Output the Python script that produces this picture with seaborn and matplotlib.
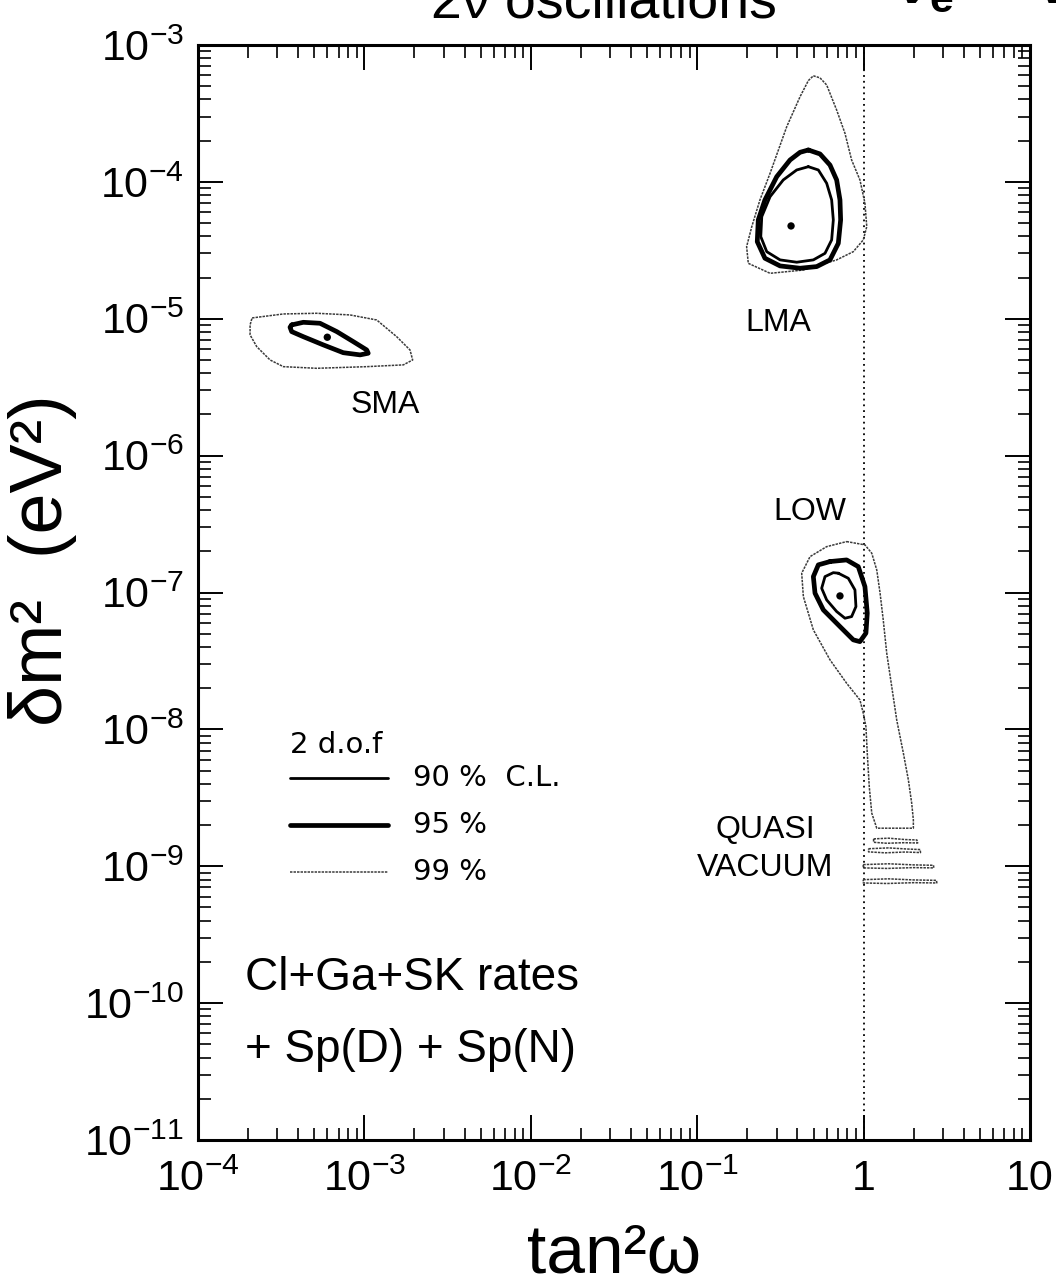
import numpy as np
import pandas as pd
import matplotlib
matplotlib.use("Agg")
import matplotlib.pyplot as plt
from matplotlib.ticker import LogLocator, NullFormatter
import seaborn as sns

# ---------------------------------------------------------------------------
# Allowed regions, vertices given as log10(tan^2 w) and log10(dm^2 / eV^2)
# ---------------------------------------------------------------------------
# SMA solution
sma_95_lx = [-3.437, -3.367, -3.267, -3.166, -3.067, -2.986, -2.977, -3.026, -3.127, -3.247, -3.367, -3.437, -3.447]
sma_95_ly = [-5.045, -5.026, -5.033, -5.094, -5.167, -5.228, -5.252, -5.264, -5.248, -5.191, -5.131, -5.094, -5.062]
sma_99_lx = [-3.675, -3.487, -3.287, -3.087, -2.926, -2.806, -2.726, -2.710, -2.766, -2.986, -3.287, -3.487, -3.567, -3.647, -3.687, -3.687]
sma_99_ly = [-4.994, -4.965, -4.960, -4.972, -5.009, -5.131, -5.228, -5.301, -5.337, -5.350, -5.362, -5.350, -5.301, -5.204, -5.118, -5.045]

# LMA solution
lma_90_lx = [-0.332, -0.272, -0.222, -0.192, -0.182, -0.192, -0.232, -0.302, -0.402, -0.502, -0.582, -0.618, -0.612, -0.562, -0.483, -0.402]
lma_90_ly = [-3.889, -3.913, -4.010, -4.132, -4.278, -4.424, -4.522, -4.570, -4.587, -4.570, -4.510, -4.400, -4.254, -4.108, -3.986, -3.913]
lma_95_lx = [-0.332, -0.262, -0.202, -0.162, -0.142, -0.138, -0.152, -0.202, -0.282, -0.382, -0.502, -0.593, -0.639, -0.633, -0.593, -0.522, -0.442, -0.382]
lma_95_ly = [-3.767, -3.796, -3.877, -3.986, -4.132, -4.278, -4.449, -4.570, -4.619, -4.631, -4.614, -4.558, -4.437, -4.278, -4.132, -3.962, -3.840, -3.784]
lma_99_lx = [-0.302, -0.262, -0.222, -0.162, -0.112, -0.072, -0.022, 0.008, 0.019, -0.002, -0.062, -0.162, -0.362,
             -0.562, -0.693, -0.703, -0.672, -0.623, -0.562, -0.462, -0.382, -0.332]
lma_99_ly = [-3.225, -3.240, -3.292, -3.475, -3.645, -3.840, -3.986, -4.156, -4.327, -4.424, -4.510, -4.570, -4.644,
             -4.668, -4.595, -4.473, -4.327, -4.132, -3.937, -3.597, -3.378, -3.260]

# LOW solution and its quasi-vacuum tail
low_90_lx = [-0.152, -0.092, -0.052, -0.046, -0.072, -0.112, -0.162, -0.222, -0.252, -0.232, -0.182]
low_90_ly = [-6.859, -6.896, -6.981, -7.103, -7.176, -7.188, -7.139, -7.054, -6.969, -6.884, -6.855]
low_95_lx = [-0.202, -0.102, -0.032, 0.008, 0.022, 0.014, -0.022, -0.062, -0.142, -0.242, -0.292, -0.302, -0.272]
low_95_ly = [-6.774, -6.762, -6.811, -6.957, -7.151, -7.297, -7.359, -7.346, -7.249, -7.127, -7.005, -6.884, -6.798]
low_99_lx = [-0.102, 0.008, 0.049, 0.079, 0.099, 0.118, 0.139, 0.169, 0.199, 0.239, 0.269, 0.289, 0.299, 0.299,
             0.079, 0.049, 0.034, 0.022, 0.014, -0.002, -0.022, -0.102, -0.202, -0.302, -0.362, -0.372, -0.322, -0.222]
low_99_ly = [-6.628, -6.652, -6.713, -6.835, -7.005, -7.200, -7.443, -7.687, -7.931, -8.174, -8.369, -8.539, -8.661, -8.722,
             -8.722, -8.612, -8.418, -8.174, -7.980, -7.882, -7.785, -7.663, -7.492, -7.273, -7.030, -6.859, -6.738, -6.665]

# quasi-vacuum islands (99 % C.L.)
qv_islands = [
    ([0.060, 0.150, 0.250, 0.320, 0.325, 0.240, 0.140, 0.060], [-8.800, -8.795, -8.805, -8.808, -8.830, -8.828, -8.832, -8.825]),
    ([0.030, 0.150, 0.260, 0.340, 0.342, 0.250, 0.130, 0.030], [-8.872, -8.866, -8.874, -8.878, -8.900, -8.896, -8.902, -8.895]),
    ([-0.002, 0.150, 0.300, 0.420, 0.422, 0.300, 0.140, -0.002], [-8.988, -8.982, -8.990, -8.993, -9.012, -9.010, -9.016, -9.012]),
    ([-0.002, 0.150, 0.300, 0.438, 0.440, 0.300, 0.140, -0.002], [-9.098, -9.092, -9.100, -9.103, -9.122, -9.120, -9.126, -9.122]),
]

# best-fit points (SMA, LMA, LOW)
fit_lx = [-3.223, -0.436, -0.142]
fit_ly = [-5.135, -4.322, -7.025]

# axis ticks
x_ticks = [1e-4, 1e-3, 1e-2, 1e-1, 1, 10]
x_tick_labels = [r"$\mathregular{10^{-4}}$", r"$\mathregular{10^{-3}}$", r"$\mathregular{10^{-2}}$",
                 r"$\mathregular{10^{-1}}$", "1", "10"]
y_ticks = [1e-11, 1e-10, 1e-9, 1e-8, 1e-7, 1e-6, 1e-5, 1e-4, 1e-3]
y_tick_labels = [r"$\mathregular{10^{-%d}}$" % k for k in range(11, 2, -1)]

# region labels
region_names = ["SMA", "LMA", "LOW", "QUASI\nVACUUM"]
region_lx = [-2.876, -0.514, -0.322, -0.593]
region_ly = [-5.630, -5.031, -6.411, -8.873]

legend_entries = ["90 %  C.L.", "95 %", "99 %"]

# ---------------------------------------------------------------------------
sns.set_theme(style="ticks")
plt.rcParams["font.family"] = ["Liberation Sans", "DejaVu Sans"]
plt.rcParams["mathtext.fontset"] = "custom"
plt.rcParams["mathtext.rm"] = "Liberation Sans"
plt.rcParams["mathtext.it"] = "Liberation Sans:italic"
plt.rcParams["mathtext.bf"] = "Liberation Sans:bold"
for key in ("text.color", "axes.labelcolor", "xtick.color", "ytick.color", "axes.edgecolor"):
    plt.rcParams[key] = "black"

fig = plt.figure(figsize=(10.56, 12.84), dpi=100)
ax = fig.add_axes([198 / 1056, 1 - 1140 / 1284, 832 / 1056, 1095 / 1284])
ax.set_xscale("log")
ax.set_yscale("log")
ax.set_xlim(1e-4, 10)
ax.set_ylim(1e-11, 1e-3)

STYLE_90 = dict(color="black", linewidth=2.0)
STYLE_95 = dict(color="black", linewidth=3.4)
STYLE_99 = dict(color="#3a3a3a", linewidth=1.1, linestyle=(0, (1.6, 0.7)))


def draw_loop(lx, ly, style):
    lx = list(lx) + [lx[0]]
    ly = list(ly) + [ly[0]]
    df = pd.DataFrame({"tan2": 10.0 ** np.array(lx), "dm2": 10.0 ** np.array(ly)})
    sns.lineplot(data=df, x="tan2", y="dm2", sort=False, estimator=None, ax=ax, **style)


draw_loop(sma_99_lx, sma_99_ly, STYLE_99)
draw_loop(sma_95_lx, sma_95_ly, STYLE_95)
draw_loop(lma_99_lx, lma_99_ly, STYLE_99)
draw_loop(lma_95_lx, lma_95_ly, STYLE_95)
draw_loop(lma_90_lx, lma_90_ly, STYLE_90)
draw_loop(low_99_lx, low_99_ly, STYLE_99)
draw_loop(low_95_lx, low_95_ly, STYLE_95)
draw_loop(low_90_lx, low_90_ly, STYLE_90)
for ix, iy in qv_islands:
    draw_loop(ix, iy, STYLE_99)

sns.scatterplot(x=10.0 ** np.array(fit_lx), y=10.0 ** np.array(fit_ly), ax=ax,
                color="black", s=28, edgecolor="none", zorder=5)

# maximal mixing
ax.axvline(1.0, color="black", linewidth=1.3, linestyle=(0, (1, 2.2)), zorder=1)

# axes styling
for sp in ax.spines.values():
    sp.set_linewidth(2.2)
    sp.set_color("black")
ax.set_xticks(x_ticks)
ax.set_xticklabels(x_tick_labels)
ax.set_yticks(y_ticks)
ax.set_yticklabels(y_tick_labels)
ax.xaxis.set_minor_locator(LogLocator(base=10, subs=np.arange(2, 10), numticks=50))
ax.yaxis.set_minor_locator(LogLocator(base=10, subs=np.arange(2, 10), numticks=50))
ax.xaxis.set_minor_formatter(NullFormatter())
ax.yaxis.set_minor_formatter(NullFormatter())
ax.tick_params(which="both", direction="in", top=True, right=True, colors="black")
ax.tick_params(which="major", length=18, width=1.4, labelsize=31)
ax.tick_params(which="minor", length=9, width=1.2)
ax.tick_params(axis="x", which="major", pad=14)
ax.tick_params(axis="y", which="major", pad=10)
ax.grid(False)

ax.set_xlabel("tan²ω", fontsize=50)
ax.xaxis.set_label_coords(0.5, -0.075)
ax.set_ylabel("δm²  (eV²)", fontsize=53)
ax.yaxis.set_label_coords(-0.146, 0.53)

# region names
for name, lx, ly in zip(region_names, region_lx, region_ly):
    ax.text(10.0 ** lx, 10.0 ** ly, name, fontsize=23, ha="center", va="center",
            linespacing=1.35)

# legend block
ax.text(0.111, 0.361, "2 d.o.f", transform=ax.transAxes, fontsize=21,
        family="DejaVu Sans", ha="left", va="center")
legend_styles = [STYLE_90, STYLE_95, STYLE_99]
legend_y = [0.3306, 0.2877, 0.2447]
for label, style, yy in zip(legend_entries, legend_styles, legend_y):
    ax.plot([0.1106, 0.2284], [yy, yy], transform=ax.transAxes, **style)
    ax.text(0.2584, yy, label, transform=ax.transAxes, fontsize=21,
            family="DejaVu Sans", ha="left", va="center")

ax.text(0.0565, 0.148, "Cl+Ga+SK rates", transform=ax.transAxes, fontsize=33,
        ha="left", va="center")
ax.text(0.0565, 0.082, "+ Sp(D) + Sp(N)", transform=ax.transAxes, fontsize=33,
        ha="left", va="center")

# heading, running past the top edge of the page
fig.text(431 / 1056, 1 - 17 / 1284, "2ν oscillations", fontsize=40,
         ha="left", va="baseline")
fig.text(895 / 1056, 1 - 3 / 1284, r"$\mathbf{\nu_e{\rightarrow}\nu_\mu}$", fontsize=44,
         ha="left", va="baseline")

fig.savefig("out.png", dpi=100, facecolor="white")
